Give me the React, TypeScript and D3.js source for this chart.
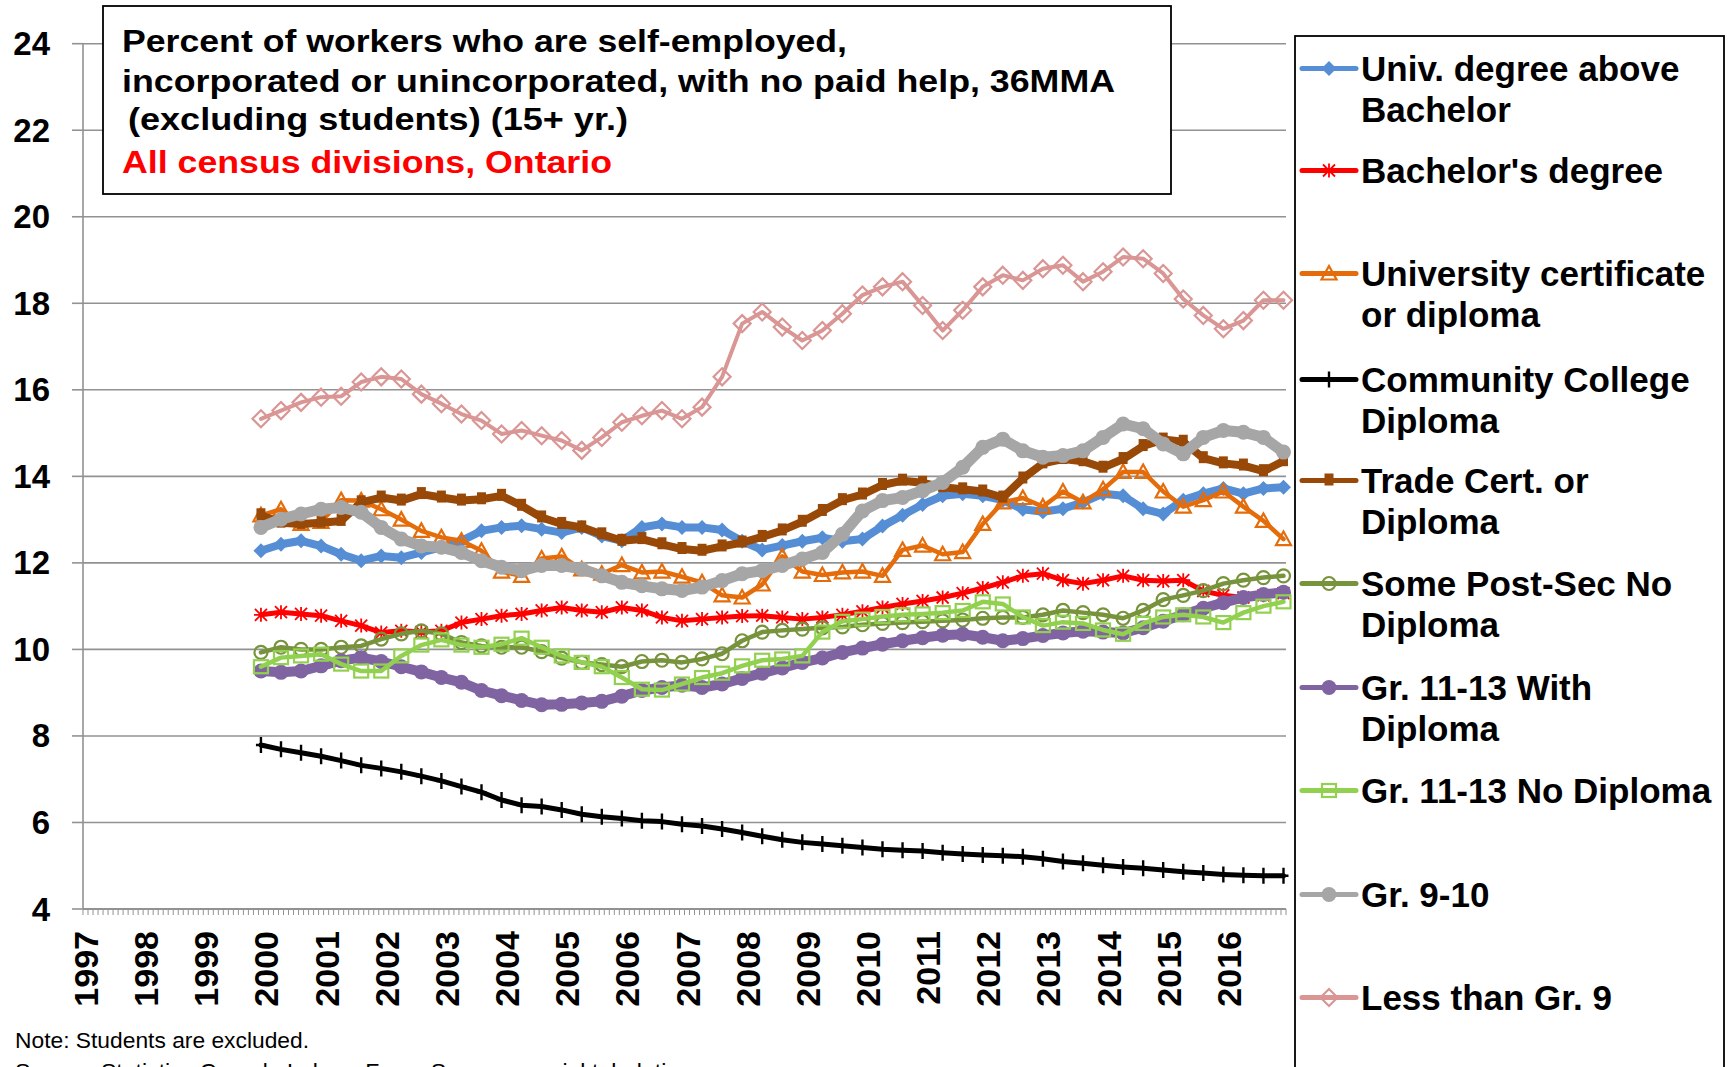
import React from 'react';
import * as d3 from 'd3';

// ---------- DATA ----------
const yearLabels = ['1997','1998','1999','2000','2001','2002','2003','2004','2005','2006','2007','2008','2009','2010','2011','2012','2013','2014','2015','2016'];
const yTicks = [4, 6, 8, 10, 12, 14, 16, 18, 20, 22, 24];

// series values every 4 months, Dec 1999 .. Dec 2016 (36-month moving average, %)
const univAboveBachelor = [12.28,12.43,12.51,12.39,12.2,12.05,12.16,12.12,12.24,12.36,12.51,12.74,12.82,12.86,12.78,12.7,12.82,12.62,12.51,12.82,12.9,12.82,12.82,12.76,12.5,12.3,12.4,12.5,12.58,12.5,12.55,12.85,13.1,13.35,13.55,13.6,13.55,13.45,13.24,13.18,13.25,13.4,13.6,13.55,13.25,13.13,13.45,13.6,13.72,13.6,13.72,13.75];
const bachelors = [10.8,10.86,10.82,10.78,10.66,10.55,10.39,10.43,10.4,10.43,10.62,10.7,10.78,10.82,10.9,10.97,10.9,10.86,10.97,10.9,10.74,10.66,10.7,10.74,10.77,10.78,10.74,10.7,10.74,10.8,10.88,10.97,11.05,11.12,11.2,11.3,11.42,11.55,11.7,11.75,11.6,11.52,11.6,11.7,11.6,11.58,11.6,11.35,11.25,11.2,11.25,11.3];
const univCertificate = [13.1,13.24,12.9,12.95,13.45,13.44,13.24,13.0,12.74,12.59,12.51,12.28,11.8,11.7,12.1,12.15,11.85,11.75,11.95,11.78,11.8,11.68,11.55,11.25,11.2,11.5,12.15,11.8,11.72,11.78,11.8,11.7,12.3,12.4,12.2,12.25,12.9,13.4,13.5,13.3,13.65,13.4,13.7,14.1,14.1,13.65,13.3,13.45,13.65,13.3,12.97,12.55];
const communityCollege = [7.79,7.69,7.61,7.53,7.43,7.32,7.25,7.17,7.07,6.96,6.83,6.7,6.52,6.4,6.37,6.29,6.19,6.13,6.09,6.04,6.02,5.96,5.92,5.85,5.77,5.68,5.6,5.54,5.5,5.46,5.42,5.38,5.36,5.34,5.3,5.27,5.25,5.23,5.21,5.16,5.1,5.06,5.01,4.97,4.94,4.9,4.86,4.83,4.8,4.78,4.77,4.77];
const tradeCert = [13.1,12.93,12.9,12.93,12.97,13.4,13.51,13.44,13.59,13.51,13.44,13.47,13.55,13.32,13.05,12.9,12.82,12.66,12.51,12.55,12.43,12.32,12.28,12.38,12.47,12.6,12.75,12.95,13.2,13.45,13.58,13.8,13.9,13.85,13.75,13.7,13.65,13.51,13.95,14.3,14.4,14.35,14.2,14.4,14.7,14.85,14.8,14.42,14.3,14.25,14.12,14.35];
const somePostSec = [9.93,10.05,10.0,10.0,10.05,10.08,10.24,10.36,10.43,10.36,10.16,10.08,10.05,10.05,9.95,9.8,9.7,9.65,9.6,9.72,9.75,9.7,9.78,9.9,10.2,10.4,10.44,10.47,10.5,10.52,10.57,10.6,10.62,10.64,10.66,10.68,10.72,10.74,10.74,10.8,10.9,10.85,10.8,10.72,10.9,11.15,11.25,11.36,11.52,11.6,11.66,11.7];
const gr1113With = [9.5,9.47,9.5,9.62,9.74,9.81,9.72,9.6,9.48,9.35,9.24,9.05,8.93,8.82,8.72,8.73,8.76,8.8,8.92,9.05,9.12,9.17,9.12,9.2,9.33,9.45,9.57,9.7,9.8,9.93,10.03,10.12,10.2,10.27,10.33,10.35,10.28,10.2,10.25,10.32,10.38,10.42,10.4,10.38,10.5,10.65,10.8,10.95,11.08,11.2,11.27,11.32];
const gr1113No = [9.6,9.81,9.85,9.89,9.66,9.5,9.5,9.85,10.1,10.22,10.1,10.05,10.12,10.26,10.05,9.85,9.7,9.6,9.35,9.08,9.06,9.2,9.35,9.45,9.62,9.75,9.78,9.85,10.4,10.65,10.7,10.76,10.8,10.82,10.85,10.9,11.1,11.05,10.75,10.55,10.63,10.6,10.45,10.35,10.6,10.75,10.8,10.75,10.62,10.85,11.0,11.1];
const gr910 = [12.82,13.01,13.13,13.24,13.28,13.17,12.82,12.55,12.39,12.36,12.24,12.05,11.9,11.82,11.94,11.94,11.86,11.7,11.55,11.47,11.4,11.36,11.44,11.59,11.75,11.82,11.94,12.09,12.24,12.66,13.2,13.44,13.51,13.67,13.86,14.21,14.67,14.86,14.59,14.44,14.48,14.59,14.9,15.21,15.1,14.75,14.52,14.9,15.06,15.02,14.9,14.56];
const lessThanGr9 = [15.33,15.52,15.71,15.83,15.85,16.18,16.3,16.25,15.9,15.68,15.44,15.29,14.98,15.06,14.94,14.83,14.6,14.9,15.25,15.4,15.52,15.33,15.6,16.3,17.53,17.8,17.45,17.14,17.37,17.76,18.19,18.38,18.5,17.95,17.37,17.84,18.38,18.65,18.53,18.8,18.88,18.5,18.73,19.07,19.03,18.69,18.1,17.72,17.41,17.6,18.07,18.07];

const titleLines = [
  'Percent of workers who are self-employed,',
  'incorporated or unincorporated, with no paid help, 36MMA',
  '(excluding students) (15+ yr.)',
];
const subtitle = 'All census divisions, Ontario';
const noteText = 'Note: Students are excluded.';
const sourceText = 'Source: Statistics Canada Labour Force Survey, special tabulation';

type MarkerType = 'diamondFill' | 'star' | 'triangle' | 'plus' | 'bar' | 'circleOpen' | 'circleFill' | 'squareOpen' | 'diamondOpen';

const seriesDefs: { label: string[]; values: number[]; color: string; marker: MarkerType; width: number }[] = [
  { label: ['Univ. degree above', 'Bachelor'], values: univAboveBachelor, color: '#558ED5', marker: 'diamondFill', width: 8 },
  { label: ["Bachelor's degree"], values: bachelors, color: '#FF0000', marker: 'star', width: 5 },
  { label: ['University certificate', 'or diploma'], values: univCertificate, color: '#E46C0A', marker: 'triangle', width: 4.5 },
  { label: ['Community College', 'Diploma'], values: communityCollege, color: '#000000', marker: 'plus', width: 5 },
  { label: ['Trade Cert. or', 'Diploma'], values: tradeCert, color: '#984807', marker: 'bar', width: 8 },
  { label: ['Some Post-Sec No', 'Diploma'], values: somePostSec, color: '#77933C', marker: 'circleOpen', width: 4.5 },
  { label: ['Gr. 11-13 With', 'Diploma'], values: gr1113With, color: '#8064A2', marker: 'circleFill', width: 10 },
  { label: ['Gr. 11-13 No Diploma'], values: gr1113No, color: '#92D050', marker: 'squareOpen', width: 4.5 },
  { label: ['Gr. 9-10'], values: gr910, color: '#A6A6A6', marker: 'circleFill', width: 11 },
  { label: ['Less than Gr. 9'], values: lessThanGr9, color: '#D99694', marker: 'diamondOpen', width: 4 },
];
const legendBaselines = [81, 183, 286, 392, 493, 596, 700, 803, 907, 1010];

// ---------- LAYOUT ----------
const W = 1736, H = 1067;
const P = { left: 83, right: 1286, top: 43.7, bottom: 909 };
const FONT = "'Liberation Sans', Arial, Helvetica, sans-serif";
const fmt = d3.timeFormat('%Y-%m');
const allMonths = d3.timeMonth.range(new Date(1997, 0, 1), new Date(2017, 0, 1)).map(fmt);
const sampleMonths = d3.timeMonth.range(new Date(1999, 11, 1), new Date(2017, 0, 1), 4).map(fmt);

function Marker({ type, cx, cy, color }: { type: MarkerType; cx: number; cy: number; color: string }) {
  switch (type) {
    case 'diamondFill':
      return <path d={`M${cx},${cy - 7.5}L${cx + 7.5},${cy}L${cx},${cy + 7.5}L${cx - 7.5},${cy}Z`} fill={color} />;
    case 'star':
      return <path d={`M${cx},${cy - 7}V${cy + 7}M${cx - 6},${cy - 6}L${cx + 6},${cy + 6}M${cx - 6},${cy + 6}L${cx + 6},${cy - 6}M${cx - 7},${cy}H${cx + 7}`} stroke={color} strokeWidth={1.8} fill="none" />;
    case 'triangle':
      return <path d={`M${cx},${cy - 7.5}L${cx + 7.5},${cy + 6}L${cx - 7.5},${cy + 6}Z`} fill="none" stroke={color} strokeWidth={2.2} />;
    case 'plus':
      return <path d={`M${cx},${cy - 8}V${cy + 8}M${cx - 5},${cy}H${cx + 5}`} stroke={color} strokeWidth={2.4} fill="none" />;
    case 'bar':
      return <rect x={cx - 4.5} y={cy - 7} width={9} height={12} fill={color} />;
    case 'circleOpen':
      return <circle cx={cx} cy={cy} r={6.5} fill="none" stroke={color} strokeWidth={2.2} />;
    case 'circleFill':
      return <circle cx={cx} cy={cy} r={7.5} fill={color} />;
    case 'squareOpen':
      return <rect x={cx - 7} y={cy - 6.5} width={14} height={13} fill="none" stroke={color} strokeWidth={2.2} />;
    case 'diamondOpen':
      return <path d={`M${cx},${cy - 8.5}L${cx + 8.5},${cy}L${cx},${cy + 8.5}L${cx - 8.5},${cy}Z`} fill="none" stroke={color} strokeWidth={2.2} />;
  }
  return null;
}

export default function App() {
  const x = d3.scaleBand<string>().domain(allMonths).range([P.left, P.right]).padding(0);
  const bw = x.bandwidth();
  const y = d3.scaleLinear().domain([4, 24]).range([P.bottom, P.top]);
  const cx = (m: string) => (x(m) as number) + bw / 2;
  const line = d3.line<number>().x((_, i) => cx(sampleMonths[i])).y((v) => y(v));

  return (
    <svg width={W} height={H} style={{ position: 'absolute', left: 0, top: 0, background: '#fff' }} fontFamily={FONT}>
      <rect x={0} y={0} width={W} height={H} fill="#fff" />
      {/* gridlines */}
      {yTicks.map((t) => (
        <g key={t}>
          {t > 4 && <line x1={P.left} x2={P.right} y1={y(t)} y2={y(t)} stroke="#929292" strokeWidth={1.6} />}
          <line x1={P.left - 11} x2={P.left} y1={y(t)} y2={y(t)} stroke="#929292" strokeWidth={1.6} />
          <text x={50} y={y(t) + 11.5} textAnchor="end" fontSize={33} fontWeight="bold" fill="#000">{t}</text>
        </g>
      ))}
      {/* axes */}
      <line x1={P.left} x2={P.left} y1={P.top} y2={P.bottom} stroke="#929292" strokeWidth={1.6} />
      <line x1={P.left} x2={P.right} y1={P.bottom} y2={P.bottom} stroke="#929292" strokeWidth={1.8} />
      {allMonths.map((m) => (
        <line key={m} x1={x(m)} x2={x(m)} y1={P.bottom} y2={P.bottom + 6} stroke="#929292" strokeWidth={1} />
      ))}
      <line x1={P.right} x2={P.right} y1={P.bottom} y2={P.bottom + 6} stroke="#929292" strokeWidth={1} />
      {yearLabels.map((yr) => {
        const px = cx(`${yr}-01`) + 12.5;
        return (
          <text key={yr} transform={`translate(${px},931) rotate(-90)`} textAnchor="end" fontSize={34} fontWeight="bold" fill="#000">{yr}</text>
        );
      })}
      {/* series */}
      {seriesDefs.map((s, si) => (
        <g key={si}>
          <path d={line(s.values) || ''} fill="none" stroke={s.color} strokeWidth={s.width} strokeLinejoin="round" strokeLinecap="round" />
          {s.values.map((v, i) => (
            <Marker key={i} type={s.marker} cx={cx(sampleMonths[i])} cy={y(v)} color={s.color} />
          ))}
        </g>
      ))}
      {/* title box */}
      <rect x={103} y={6} width={1068} height={188} fill="#fff" stroke="#000" strokeWidth={1.8} />
      <text x={122} y={52} fontSize={31} fontWeight="bold" textLength={725} lengthAdjust="spacingAndGlyphs">{titleLines[0]}</text>
      <text x={122} y={92} fontSize={31} fontWeight="bold" textLength={993} lengthAdjust="spacingAndGlyphs">{titleLines[1]}</text>
      <text x={128} y={130} fontSize={31} fontWeight="bold" textLength={500} lengthAdjust="spacingAndGlyphs">{titleLines[2]}</text>
      <text x={122} y={173} fontSize={31} fontWeight="bold" fill="#FF0000" textLength={490} lengthAdjust="spacingAndGlyphs">{subtitle}</text>
      {/* legend */}
      <rect x={1295} y={36} width={429} height={1100} fill="#fff" stroke="#000" strokeWidth={1.8} />
      {seriesDefs.map((s, si) => {
        const b = legendBaselines[si];
        const ly = b - 12.5;
        return (
          <g key={si}>
            <line x1={1302} x2={1356} y1={ly} y2={ly} stroke={s.color} strokeWidth={5} strokeLinecap="round" />
            <Marker type={s.marker} cx={1329} cy={ly} color={s.color} />
            {s.label.map((t, li) => (
              <text key={li} x={1361} y={b + li * 40.5} fontSize={35} fontWeight="bold" fill="#000">{t}</text>
            ))}
          </g>
        );
      })}
      {/* notes */}
      <text x={15} y={1048} fontSize={22} textLength={294} lengthAdjust="spacingAndGlyphs">{noteText}</text>
      <text x={15} y={1079} fontSize={22} textLength={677} lengthAdjust="spacingAndGlyphs">{sourceText}</text>
    </svg>
  );
}
